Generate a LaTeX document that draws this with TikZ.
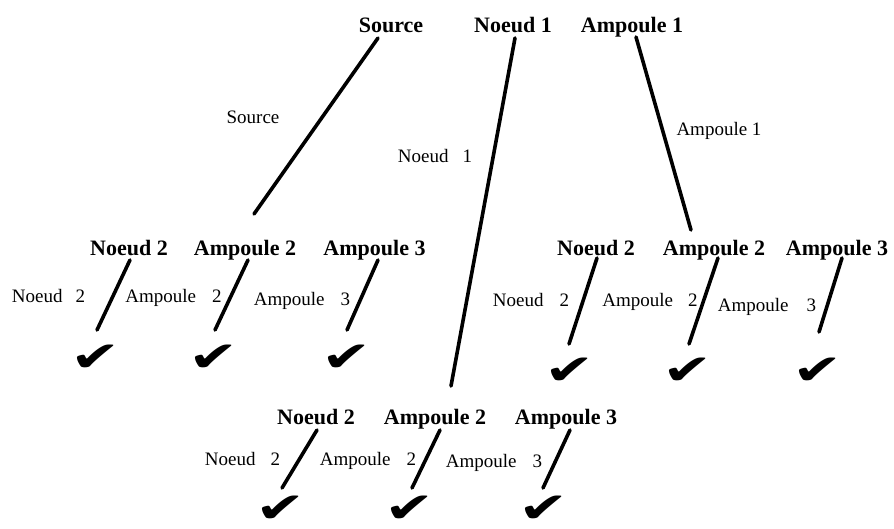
\documentclass[tikz,border=0pt]{standalone}
\usepackage{graphicx}
\usepackage{fontspec}
\setmainfont{Liberation Serif}
\newfontfamily\symf{DejaVu Sans}
\newcommand\chk{\scalebox{1.5}[1.05]{✔}}
\begin{document}
\begin{tikzpicture}[x=1pt,y=-1pt,
  head/.style={anchor=base,inner sep=0pt,font=\fontsize{22}{26}\selectfont\bfseries},
  lab/.style={anchor=base,inner sep=0pt,font=\fontsize{19}{23}\selectfont},
  tick/.style={anchor=center,inner sep=0pt,font=\symf\fontsize{40}{44}\selectfont},
  conn/.style={line width=3.6pt,line cap=round}]
\useasboundingbox (0,0) rectangle (894,528);
\fill[white] (0,0) rectangle (894,528);
% top heads
\node[head] (src) at (391,32) {Source};
\node[head] (n1) at (513,32) {Noeud 1};
\node[head] (a1) at (632,32) {Ampoule 1};
% left row
\node[head] (ln2) at (129,255) {Noeud 2};
\node[head] (la2) at (245,255) {Ampoule 2};
\node[head] (la3) at (374.5,255) {Ampoule 3};
% right row
\node[head] (rn2) at (596,255) {Noeud 2};
\node[head] (ra2) at (714,255) {Ampoule 2};
\node[head] (ra3) at (837,255) {Ampoule 3};
% bottom row
\node[head] (bn2) at (316,424) {Noeud 2};
\node[head] (ba2) at (435,424) {Ampoule 2};
\node[head] (ba3) at (566,424) {Ampoule 3};
% ticks
\node[tick] (lc1) at (96,358) {\chk};
\node[tick] (lc2) at (214,358) {\chk};
\node[tick] (lc3) at (347,358) {\chk};
\node[tick] (rc1) at (570,371) {\chk};
\node[tick] (rc2) at (688,371) {\chk};
\node[tick] (rc3) at (818,371) {\chk};
\node[tick] (bc1) at (281,509) {\chk};
\node[tick] (bc2) at (410,509) {\chk};
\node[tick] (bc3) at (544,509) {\chk};
% connectors
\draw[conn] ([xshift=-13pt,yshift=-6pt]src.base) -- ([xshift=9pt,yshift=41pt]la2.base);
\draw[conn] ([xshift=2pt,yshift=-6pt]n1.base) -- ([xshift=16pt,yshift=38pt]ba2.base);
\draw[conn] ([xshift=4pt,yshift=-5pt]a1.base) -- ([xshift=-23pt,yshift=25pt]ra2.base);
\draw[conn] ([xshift=1pt,yshift=-5pt]ln2.base) -- ([xshift=1pt,yshift=28pt]lc1.center);
\draw[conn] ([xshift=3pt,yshift=-5pt]la2.base) -- ([xshift=1pt,yshift=28pt]lc2.center);
\draw[conn] ([xshift=3.5pt,yshift=-5pt]la3.base) -- ([xshift=0pt,yshift=28pt]lc3.center);
\draw[conn] ([xshift=1pt,yshift=-3pt]rn2.base) -- ([xshift=-1pt,yshift=27pt]rc1.center);
\draw[conn] ([xshift=4pt,yshift=-3pt]ra2.base) -- ([xshift=1pt,yshift=27pt]rc2.center);
\draw[conn] ([xshift=5pt,yshift=-3pt]ra3.base) -- ([xshift=1pt,yshift=39pt]rc3.center);
\draw[conn] ([xshift=1pt,yshift=-6pt]bn2.base) -- ([xshift=1pt,yshift=21pt]bc1.center);
\draw[conn] ([xshift=5pt,yshift=-6pt]ba2.base) -- ([xshift=2pt,yshift=21pt]bc2.center);
\draw[conn] ([xshift=4pt,yshift=-6pt]ba3.base) -- ([xshift=-1pt,yshift=21pt]bc3.center);
% edge labels
\node[lab] (l-src) at (253,123) {Source};
\node[lab] (l-n1) at (435,162) {Noeud\hspace{14pt}1};
\node[lab] (l-a1) at (719,135) {Ampoule 1};
\node[lab] (l-ln2) at (48.5,302) {Noeud\hspace{13pt}2};
\node[lab] (l-la2) at (173.5,302) {Ampoule\hspace{16pt}2};
\node[lab] (l-la3) at (302,305) {Ampoule\hspace{16pt}3};
\node[lab] (l-rn2) at (531,306) {Noeud\hspace{16pt}2};
\node[lab] (l-ra2) at (650,306) {Ampoule\hspace{15pt}2};
\node[lab] (l-ra3) at (767,311) {Ampoule\hspace{18pt}3};
\node[lab] (l-bn2) at (242.5,465) {Noeud\hspace{15pt}2};
\node[lab] (l-ba2) at (368,465) {Ampoule\hspace{16pt}2};
\node[lab] (l-ba3) at (494,467) {Ampoule\hspace{16pt}3};
\end{tikzpicture}
\end{document}
